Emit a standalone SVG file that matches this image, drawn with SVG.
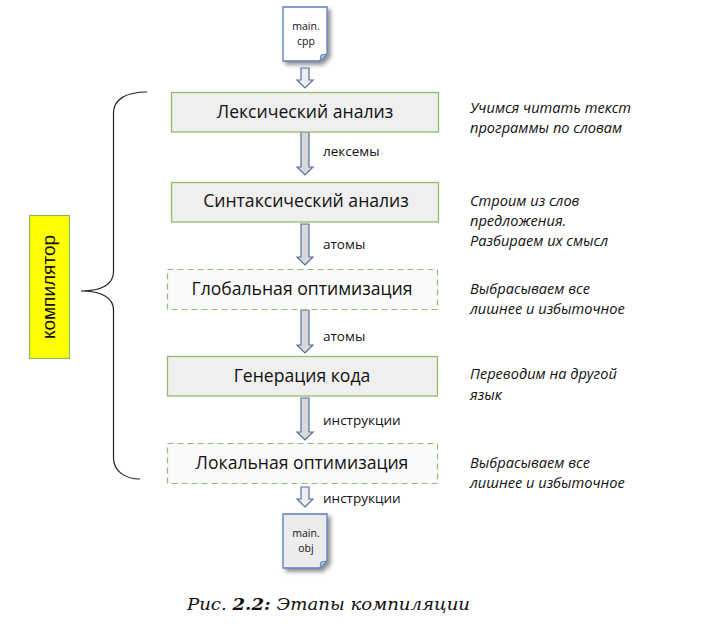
<svg xmlns="http://www.w3.org/2000/svg" width="719" height="632" viewBox="0 0 719 632">
<defs>
<filter id="sh" x="-30%" y="-30%" width="170%" height="170%"><feDropShadow dx="3" dy="3" stdDeviation="2" flood-color="#000" flood-opacity="0.45"/></filter>
</defs>
<style>
text{font-family:"Open Sans","Noto Sans","Liberation Sans",sans-serif;fill:#111}
.box{fill:#efefef;stroke:#8fbc6a;stroke-width:1.3}
.dash{fill:#fafafa;stroke:#93bd72;stroke-width:1.2;stroke-dasharray:6 4}
.t{font-size:17.6px;text-anchor:middle}
.lab{font-size:13.5px}
.note{font-size:14.6px;font-style:italic}
.file{stroke:#5b7fbd;stroke-width:1.3;filter:url(#sh)}
.fold{fill:#aec2e4;stroke:#5b7fbd;stroke-width:1}
.ft{font-size:10.5px;text-anchor:middle}
.a{fill:#d9d9d9;stroke:#50709f;stroke-width:1.2}
.a2{fill:#eeeeee;stroke:#50709f;stroke-width:1.2}
</style>
<g id="connectors">
<path class="a2" d="M301 68H309V80H313L305 88L297 80H301Z"/>
<path class="a" d="M301 132H309V167H313L305 175L297 167H301Z"/>
<path class="a" d="M301 224H309V257H313L305 265L297 257H301Z"/>
<path class="a" d="M301 310H309V345H313L305 353L297 345H301Z"/>
<path class="a" d="M301 398H309V432H313L305 440L297 432H301Z"/>
<path class="a2" d="M301 487H309V499H313L305 507L297 499H301Z"/>
<text class="lab" x="323" y="156">лексемы</text>
<text class="lab" x="323" y="249">атомы</text>
<text class="lab" x="323" y="341">атомы</text>
<text class="lab" x="323" y="425">инструкции</text>
<text class="lab" x="323" y="503">инструкции</text>
</g>
<g id="file-cpp">
<path class="file" fill="#fff" d="M283 7H327V54L320 61H283Z"/>
<path class="fold" d="M320 61L321 55L327 54Z"/>
<text class="ft" x="306" y="30">main.</text>
<text class="ft" x="306" y="45">cpp</text>
</g>
<g id="lex"><rect class="box" x="171.500" y="92.500" width="267" height="39.500"/><text class="t" x="305" y="118">Лексический анализ</text></g>
<g id="syn"><rect class="box" x="171.500" y="182.500" width="267" height="39.500"/><text class="t" x="306" y="207">Синтаксический анализ</text></g>
<g id="glob"><rect class="dash" x="167.500" y="269.500" width="270" height="40"/><text class="t" x="302" y="295">Глобальная оптимизация</text></g>
<g id="gen"><rect class="box" x="167.500" y="356.500" width="270" height="39.500"/><text class="t" x="302" y="382">Генерация кода</text></g>
<g id="loc"><rect class="dash" x="167.500" y="443.500" width="270" height="40"/><text class="t" x="302" y="469">Локальная оптимизация</text></g>
<g id="file-obj">
<path class="file" fill="#ececec" d="M283 514H327V561L320 568H283Z"/>
<path class="fold" d="M320 568L321 562L327 561Z"/>
<text class="ft" x="306" y="537">main.</text>
<text class="ft" x="306" y="552">obj</text>
</g>
<g id="brace">
<path fill="none" stroke="#222" stroke-width="1.2" d="M147 92C125 92 113.500 100 113.500 113V272C113.500 284 102 291 81 291C102 291 113.500 298 113.500 310V458C113.500 471 125 479 140 479"/>
</g>
<g id="compiler">
<rect x="29.500" y="215.500" width="40" height="143" fill="#ffff00" stroke="#8fb56a" stroke-width="1.2"/>
<text transform="translate(55 287) rotate(-90)" text-anchor="middle" style="font-family:'Liberation Sans',sans-serif;font-size:19px;fill:#111">компилятор</text>
</g>
<g id="notes">
<text class="note" x="470" y="113">Учимся читать текст</text>
<text class="note" x="470" y="133">программы по словам</text>
<text class="note" x="470" y="206">Строим из слов</text>
<text class="note" x="470" y="226">предложения.</text>
<text class="note" x="470" y="246">Разбираем их смысл</text>
<text class="note" x="470" y="294">Выбрасываем все</text>
<text class="note" x="470" y="314">лишнее и избыточное</text>
<text class="note" x="470" y="379">Переводим на другой</text>
<text class="note" x="470" y="400">язык</text>
<text class="note" x="470" y="468">Выбрасываем все</text>
<text class="note" x="470" y="488">лишнее и избыточное</text>
</g>
<g id="caption">
<text x="187" y="610" style="font-family:'DejaVu Serif',serif;font-size:17.5px;font-style:italic;fill:#111" textLength="283" lengthAdjust="spacingAndGlyphs">Рис. <tspan font-weight="bold">2.2:</tspan> Этапы компиляции</text>
</g>
</svg>
